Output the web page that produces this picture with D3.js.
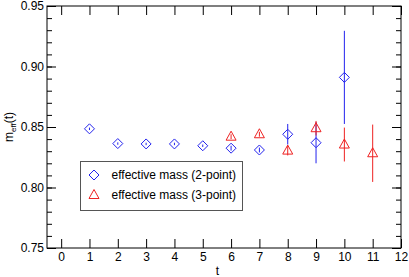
<!DOCTYPE html>
<html><head><meta charset="utf-8">
<script src="https://cdn.jsdelivr.net/npm/d3@7"></script>
<style>body{margin:0;background:#fff}svg{display:block}text{font-family:"Liberation Sans",Arial,sans-serif}</style>
</head><body>
<script>
const t2 = [1,2,3,4,5,6,7,8,9,10];
const m2 = [0.8485,0.8363,0.8360,0.8360,0.8345,0.8325,0.8310,0.8440,0.8370,0.8910];
const e2 = [0.0010,0.0010,0.0010,0.0010,0.0010,0.0020,0.0020,0.0085,0.0170,0.0385];
const t3 = [6,7,8,9,10,11];
const m3 = [0.8420,0.8440,0.8305,0.8490,0.8355,0.8283];
const e3 = [0.0020,0.0020,0.0040,0.0060,0.0140,0.0237];
const xTicks = d3.range(0,13);
const yTicks = [0.75,0.80,0.85,0.90,0.95];
const legendLabels = ["effective mass (2-point)","effective mass (3-point)"];

const W=409,H=277, L=47, R=401, T=6, B=248;
const svg=d3.select("body").append("svg").attr("width",W).attr("height",H);
const x=d3.scaleLinear().domain([-0.5,12]).range([L,R]);
const y=d3.scaleLinear().domain([0.75,0.95]).range([B,T]);

svg.append("rect").attr("x",L).attr("y",T).attr("width",R-L).attr("height",B-T)
  .attr("fill","none").attr("stroke","#000").attr("stroke-width",1);

const minorY = d3.range(0.75,0.9501,0.01);
const gB=svg.append("g").attr("transform",`translate(0,${B})`)
  .call(d3.axisBottom(x).tickValues(xTicks).tickFormat(d3.format("d")).tickSizeInner(-9).tickSizeOuter(0).tickPadding(4));
const gT=svg.append("g").attr("transform",`translate(0,${T})`)
  .call(d3.axisTop(x).tickValues(xTicks).tickFormat("").tickSizeInner(-9).tickSizeOuter(0));
const gL=svg.append("g").attr("transform",`translate(${L},0)`)
  .call(d3.axisLeft(y).tickValues(yTicks).tickFormat(d3.format(".2f")).tickSizeInner(-9).tickSizeOuter(0).tickPadding(3));
const gLm=svg.append("g").attr("transform",`translate(${L},0)`)
  .call(d3.axisLeft(y).tickValues(minorY).tickFormat("").tickSizeInner(-5).tickSizeOuter(0));
const gR=svg.append("g").attr("transform",`translate(${R},0)`)
  .call(d3.axisRight(y).tickValues(yTicks).tickFormat("").tickSizeInner(-9).tickSizeOuter(0));
const gRm=svg.append("g").attr("transform",`translate(${R},0)`)
  .call(d3.axisRight(y).tickValues(minorY).tickFormat("").tickSizeInner(-5).tickSizeOuter(0));
[gB,gT,gL,gLm,gR,gRm].forEach(g=>{g.select(".domain").remove();g.selectAll("line").attr("stroke","#000");
  g.selectAll("text").attr("font-size",12).attr("fill","#000").attr("font-family","'Liberation Sans',Arial,sans-serif");});

svg.append("text").attr("x",x(5.5)+0.5).attr("y",275).attr("text-anchor","middle").attr("font-size",12).text("t");
const yl=svg.append("text").attr("transform",`translate(13,${(T+B)/2}) rotate(-90)`).attr("text-anchor","middle").attr("font-size",12);
yl.append("tspan").text("m");
yl.append("tspan").attr("font-size",8).attr("dy",3).text("eff");
yl.append("tspan").attr("dy",-3).text("(t)");

const blue="#2222ee", red="#ee2222";
function diamond(g,cx,cy,c){g.append("path").attr("d",`M${cx},${cy-5}L${cx+5},${cy}L${cx},${cy+5}L${cx-5},${cy}Z`).attr("fill","none").attr("stroke",c).attr("stroke-width",1);}
function tri(g,cx,cy,c){g.append("path").attr("d",`M${cx},${cy-5.5}L${cx+5},${cy+3.5}L${cx-5},${cy+3.5}Z`).attr("fill","none").attr("stroke",c).attr("stroke-width",1);}

const g=svg.append("g");
t2.forEach((t,i)=>{
  g.append("line").attr("x1",x(t)).attr("x2",x(t)).attr("y1",y(m2[i]-e2[i])).attr("y2",y(m2[i]+e2[i])).attr("stroke",blue);
  diamond(g,x(t),y(m2[i]),blue);
});
t3.forEach((t,i)=>{
  g.append("line").attr("x1",x(t)).attr("x2",x(t)).attr("y1",y(m3[i]-e3[i])).attr("y2",y(m3[i]+e3[i])).attr("stroke",red);
  tri(g,x(t),y(m3[i]),red);
});

const lg=svg.append("g");
lg.append("rect").attr("x",80.5).attr("y",161.5).attr("width",162).attr("height",49).attr("fill","#fff").attr("stroke","#555").attr("stroke-width",1);
diamond(lg,94,175,blue); tri(lg,94,195,red);
legendLabels.forEach((s,i)=>lg.append("text").attr("x",111.5).attr("y",179+i*20).attr("font-size",12).text(s));
</script>
</body></html>
